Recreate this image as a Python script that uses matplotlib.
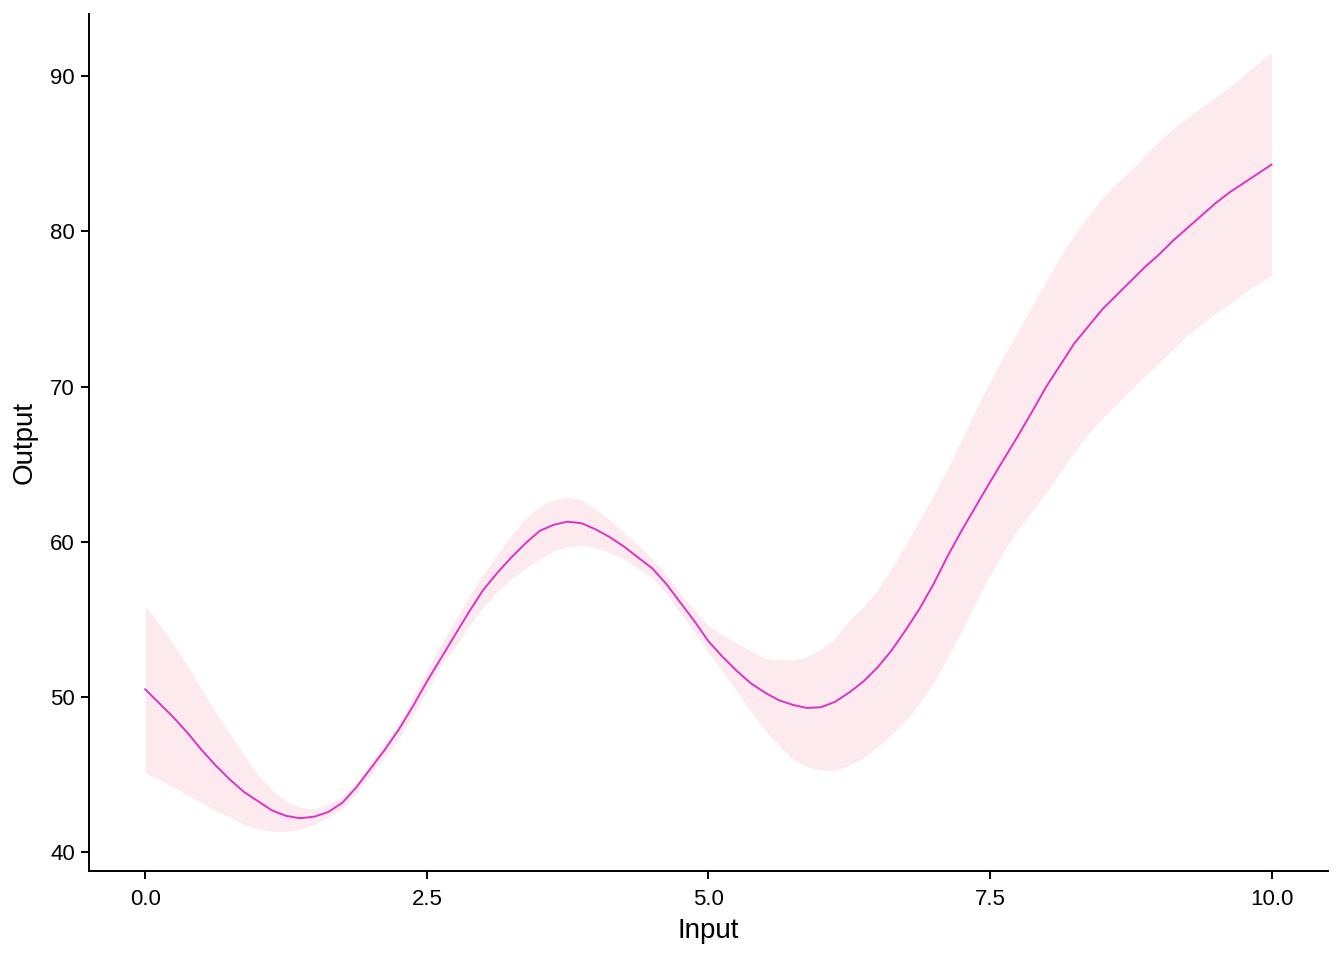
import matplotlib
matplotlib.use('Agg')
import matplotlib.pyplot as plt
import numpy as np

plt.rcParams['font.family'] = ['Liberation Sans', 'DejaVu Sans']

# values, step 0.125
x_data = np.linspace(0, 10, 81)
fit = [50.5, 49.6, 48.7, 47.7, 46.6, 45.6, 44.7, 43.9,
       43.3, 42.7, 42.35, 42.2, 42.3, 42.6, 43.2, 44.2,
       45.4, 46.6, 47.9, 49.4, 51.0, 52.5, 54.0, 55.5,
       56.9, 58.0, 59.0, 59.9, 60.7, 61.1, 61.3, 61.2,
       60.8, 60.3, 59.7, 59.0, 58.3, 57.3, 56.1, 54.9,
       53.6, 52.6, 51.7, 50.9, 50.3, 49.8, 49.5, 49.3,
       49.35, 49.7, 50.3, 51.0, 51.9, 53.0, 54.3, 55.7,
       57.3, 59.1, 60.75, 62.3, 63.85, 65.35, 66.85, 68.4,
       70.0, 71.4, 72.8, 73.9, 75.0, 75.9, 76.8, 77.7,
       78.5, 79.4, 80.2, 81.0, 81.8, 82.5, 83.1, 83.7,
       84.3]
lower = [45.1, 44.7, 44.2, 43.7, 43.2, 42.7, 42.3, 41.8,
         41.5, 41.35, 41.35, 41.5, 41.8, 42.3, 42.8, 43.8,
         45.0, 46.1, 47.3, 48.8, 50.4, 52.0, 53.2, 54.6,
         55.8, 56.8, 57.6, 58.3, 58.9, 59.4, 59.7, 59.8,
         59.6, 59.3, 58.9, 58.3, 57.7, 56.7, 55.4, 54.2,
         52.9, 51.7, 50.4, 49.1, 47.9, 46.9, 46.0, 45.5,
         45.3, 45.3, 45.6, 46.1, 46.8, 47.6, 48.5, 49.6,
         50.9, 52.6, 54.3, 56.1, 57.9, 59.4, 60.8, 62.0,
         63.2, 64.5, 65.8, 67.0, 68.0, 68.9, 69.8, 70.7,
         71.5, 72.4, 73.3, 74.0, 74.7, 75.3, 76.0, 76.6,
         77.2]
upper = [55.9, 54.7, 53.4, 52.0, 50.5, 49.0, 47.6, 46.3,
         45.0, 44.0, 43.3, 42.9, 42.8, 43.1, 43.6, 44.5,
         45.8, 47.0, 48.3, 50.0, 51.7, 53.4, 54.9, 56.5,
         57.9, 59.2, 60.4, 61.5, 62.3, 62.7, 62.9, 62.7,
         62.1, 61.4, 60.6, 59.8, 58.9, 57.9, 56.7, 55.6,
         54.6, 54.0, 53.5, 53.0, 52.5, 52.4, 52.4, 52.6,
         53.1, 53.8, 54.9, 55.8, 56.9, 58.3, 59.8, 61.4,
         63.0, 64.7, 66.6, 68.5, 70.3, 72.0, 73.6, 75.2,
         76.8, 78.4, 79.8, 81.0, 82.2, 83.1, 83.9, 84.9,
         85.8, 86.6, 87.3, 88.0, 88.6, 89.3, 90.0, 90.8,
         91.5]

fig = plt.figure(figsize=(13.44, 9.6), dpi=100)
ax = fig.add_axes([0.0662, 0.0927, 0.9218, 0.8927])

ax.fill_between(x_data, lower, upper, color='#FDEAEF', linewidth=0)
ax.plot(x_data, fit, color='#DD33C4', linewidth=1.4)

ax.set_xlim(-0.5, 10.5)
ax.set_ylim(38.8, 94.0)
ax.set_xticks([0, 2.5, 5, 7.5, 10])
ax.set_xticklabels(['0.0', '2.5', '5.0', '7.5', '10.0'])
ax.set_yticks([40, 50, 60, 70, 80, 90])

for s in ['top', 'right']:
    ax.spines[s].set_visible(False)
for s in ['left', 'bottom']:
    ax.spines[s].set_linewidth(1.4)
ax.tick_params(axis='both', length=6, width=1.4, labelsize=16, colors='black')
ax.tick_params(axis='x', pad=7)
ax.tick_params(axis='y', pad=4)

ax.set_xlabel('Input', fontsize=20, labelpad=6)
ax.set_ylabel('Output', fontsize=20, labelpad=9)

fig.savefig('out.png', dpi=100)
